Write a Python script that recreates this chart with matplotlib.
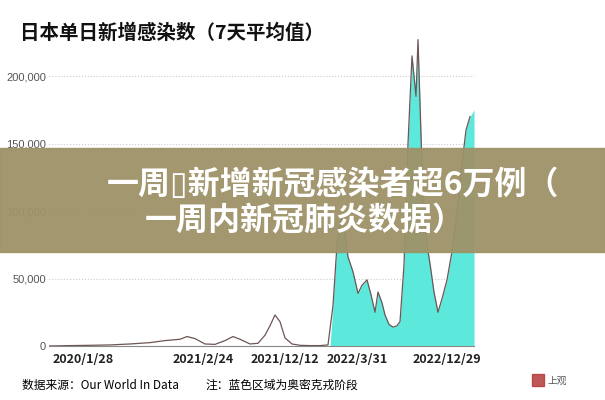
import matplotlib
matplotlib.use("Agg")
import matplotlib.pyplot as plt
from matplotlib.patches import Rectangle

plt.rcParams['font.family'] = ['Noto Sans CJK SC', 'DejaVu Sans']

# position along the time axis (chart units) and 7-day average cases
pos = [49, 70, 90, 110, 130, 150, 165, 180, 187, 195, 205, 215, 225, 233, 240, 250,
       258, 265, 270, 275, 280, 285, 292, 300, 310, 320, 328, 333, 337, 341, 344,
       348, 353, 358, 362, 367, 371, 375, 378, 382, 385, 389, 393, 397, 400, 404,
       408, 412, 414, 416, 418, 420, 423, 427, 430, 434, 438, 442, 447, 452, 457,
       462, 466, 470]
cases = [0, 300, 500, 800, 1500, 2500, 4000, 5000, 7000, 5500, 1500, 1200, 4000, 7000,
         5000, 1500, 2000, 8000, 15000, 23000, 18000, 6000, 1500, 500, 300, 300, 800,
         30000, 75000, 95000, 88000, 66000, 55000, 39000, 45000, 49000, 38000, 25000,
         40000, 32000, 23000, 16000, 14000, 15000, 18000, 60000, 150000, 215000, 200000,
         185000, 227000, 180000, 110000, 75000, 61000, 40000, 25000, 35000, 49000,
         70000, 100000, 135000, 160000, 170000]
omicron_start = 330

tick_pos = [83, 203, 285, 357, 447]
tick_labels = ['2020/1/28', '2021/2/24', '2021/12/12', '2022/3/31', '2022/12/29']
y_ticks = [0, 50000, 100000, 150000, 200000]
y_labels = ['0', '50,000', '100,000', '150,000', '200,000']

fig = plt.figure(figsize=(6.05, 4.0), dpi=100)
ax = fig.add_axes([49 / 605, 0.135, (474 - 49) / 605, 0.776])

opos = [p for p in pos if p >= omicron_start]
ocases = [c for p, c in zip(pos, cases) if p >= omicron_start]
ax.fill_between([omicron_start] + opos + [474], [0] + ocases + [ocases[-1] + 5000],
                color='#5de8dc', lw=0)
ax.plot(pos, cases, color='#6e5555', lw=0.9)

ax.set_xlim(49, 474)
ax.set_ylim(0, 230000)
ax.set_yticks(y_ticks)
ax.set_yticklabels(y_labels, color='#555555', fontsize=8, family=['Liberation Sans'])
ax.set_xticks(tick_pos)
ax.set_xticklabels(tick_labels, fontsize=9, fontweight='bold', color='#222222')
ax.tick_params(axis='y', length=0, pad=2)
ax.tick_params(axis='x', length=0, pad=5)
ax.grid(axis='y', ls=':', color='#cccccc', lw=0.8)
ax.set_axisbelow(True)
for s in ['top', 'right', 'left']:
    ax.spines[s].set_visible(False)
ax.spines['bottom'].set_color('#888888')

fig.text(20 / 605, 1 - 33 / 400, '日本单日新增感染数（7天平均值）', fontsize=14,
         fontweight='bold', va='center', color='#111111')
fig.text(22 / 605, 1 - 385 / 400, '数据来源：Our World In Data', fontsize=8.5, va='center')
fig.text(205 / 605, 1 - 385 / 400, '注：蓝色区域为奥密克戎阶段', fontsize=8.5, va='center')
fig.text(548 / 605, 1 - 381 / 400, '上观', fontsize=7, va='center', color='#555555')
fig.patches.append(Rectangle((532 / 605, 1 - 386 / 400), 12 / 605, 12 / 400,
                             transform=fig.transFigure, color='#b03030', alpha=0.8))

# overlay banner
fig.patches.append(Rectangle((0, 1 - 252 / 400), 1, 104 / 400, transform=fig.transFigure,
                             color='#9e9267', alpha=0.95, zorder=5))
fig.text(333 / 605, 1 - 185 / 400, '一周\u25af新增新冠感染者超6万例（', fontsize=23,
         fontweight='bold', color='white', ha='center', va='center', zorder=6)
fig.text(305 / 605, 1 - 221 / 400, '一周内新冠肺炎数据）', fontsize=23,
         fontweight='bold', color='white', ha='center', va='center', zorder=6)

fig.savefig('out.png', dpi=100)
